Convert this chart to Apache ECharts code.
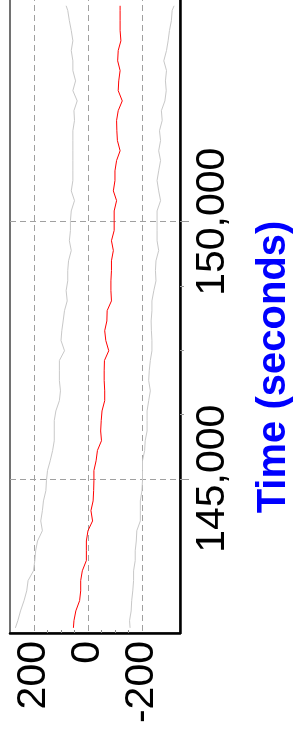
<!DOCTYPE html>
<html>
<head>
<meta charset="utf-8">
<script src="https://cdn.jsdelivr.net/npm/echarts@6/dist/echarts.min.js"></script>
<style>
html,body{margin:0;padding:0;background:#fff;}
#chart{width:293px;height:736px;}
</style>
</head>
<body>
<div id="chart"></div>
<script>
// Time (seconds), ascending
var times = [142100,142240,142430,142630,142820,143020,143210,143410,143600,143790,
  143990,144180,144380,144570,144770,144960,145160,145350,145550,145740,
  145930,146130,146320,146520,146710,146910,147100,147300,147490,147690,
  147880,148070,148270,148460,148660,148850,149050,149240,149440,149630,
  149830,150020,150210,150410,150600,150800,150990,151190,151380,151580,
  151770,151970,152160,152350,152550,152740,152940,153130,153330,153520,
  153720,153910,154110,154200];
// central estimate (red)
var centerValues = [54,52,45,31,27,27,21,6,6,6,
  0,-17,-11,-19,-21,-22,-22,-30,-35,-50,
  -47,-49,-52,-62,-62,-60,-60,-61,-77,-66,
  -62,-70,-71,-87,-85,-85,-87,-87,-94,-87,
  -97,-97,-97,-106,-94,-100,-100,-106,-119,-109,
  -107,-106,-112,-127,-112,-114,-119,-110,-112,-122,
  -119,-119,-119,-119];
// upper bound (grey)
var upperValues = [269,260,250,237,227,222,202,197,194,187,
  169,175,169,165,156,154,150,140,131,125,
  125,125,119,106,102,106,106,106,87,100,
  97,92,87,77,81,75,75,72,62,69,
  65,65,62,50,62,56,56,56,56,56,
  56,50,52,40,56,46,56,56,62,56,
  62,69,75,81];
// lower bound (grey)
var lowerValues = [-156,-154,-160,-162,-166,-169,-169,-175,-175,-179,
  -181,-194,-194,-194,-200,-202,-202,-202,-210,-212,
  -219,-219,-219,-225,-231,-225,-227,-231,-237,-237,
  -235,-234,-237,-237,-244,-252,-250,-252,-262,-256,
  -256,-256,-256,-269,-262,-256,-262,-269,-262,-269,
  -265,-275,-272,-285,-290,-287,-291,-281,-291,-297,
  -302,-309,-312,-319];
var timeLabels = [145000,150000];
var timeMinorTicks = [146250,147500,148750];
var valueLabels = [-200,0,200];
var valueMinorTicks = [150,100,50,-50,-100,-150];

function pairs(vals){ return vals.map(function(v,i){ return [v, times[i]]; }); }

var FONT = '"Liberation Sans", Arial, sans-serif';
var chart = echarts.init(document.getElementById('chart'));
chart.setOption({
  animation:false,
  backgroundColor:'#fff',
  grid:{left:10,right:113,top:-5,bottom:103,show:true,borderColor:'#444',borderWidth:1.5,backgroundColor:'transparent',
    containLabel:false,outerBoundsMode:'none'},
  xAxis:[{
    type:'value', inverse:true, min:-341, max:289, position:'bottom',
    axisLine:{show:true,onZero:false,lineStyle:{color:'#000',width:2.5}},
    axisTick:{show:false,customValues:valueLabels},
    axisLabel:{customValues:valueLabels,rotate:90,margin:8,color:'#000',fontSize:41,fontFamily:FONT},
    splitLine:{show:true,lineStyle:{color:'#a0a0a0',type:[6,4],width:1}}
  },{
    type:'value', inverse:true, min:-341, max:289, position:'bottom',
    axisLine:{show:false,onZero:false},
    axisTick:{show:true,inside:true,length:3,customValues:valueMinorTicks,lineStyle:{color:'#888'}},
    axisLabel:{show:false},
    splitLine:{show:false}
  }],
  yAxis:[{
    type:'value', min:142000, max:154410, position:'right',
    axisLine:{show:true,onZero:false,lineStyle:{color:'#000',width:2.5}},
    axisTick:{show:true,length:9,customValues:timeLabels,lineStyle:{color:'#999'}},
    axisLabel:{customValues:timeLabels,rotate:90,margin:12,color:'#000',fontSize:41,fontFamily:FONT,
      formatter:function(v){return v.toLocaleString('en-US');}},
    splitLine:{show:true,lineStyle:{color:'#a0a0a0',type:[6,4],width:1}},
    name:'Time (seconds)', nameLocation:'middle', nameRotate:90, nameGap:74,
    nameTextStyle:{color:'#0000ff',fontWeight:'bold',fontSize:40,fontFamily:FONT,padding:[0,106,0,0]}
  },{
    type:'value', min:142000, max:154410, position:'right',
    axisLine:{show:false,onZero:false},
    axisTick:{show:true,length:4,customValues:timeMinorTicks,lineStyle:{color:'#999'}},
    axisLabel:{show:false},
    splitLine:{show:false}
  }],
  series:[
    {type:'line',name:'upper',data:pairs(upperValues),showSymbol:false,symbol:'none',lineStyle:{color:'#c8c8c8',width:1},xAxisIndex:0,yAxisIndex:0,z:3},
    {type:'line',name:'lower',data:pairs(lowerValues),showSymbol:false,symbol:'none',lineStyle:{color:'#c8c8c8',width:1},xAxisIndex:0,yAxisIndex:0,z:3},
    {type:'line',name:'estimate',data:pairs(centerValues),showSymbol:false,symbol:'none',lineStyle:{color:'#ff0000',width:1},xAxisIndex:0,yAxisIndex:0,z:4}
  ]
});
</script>
</body>
</html>
